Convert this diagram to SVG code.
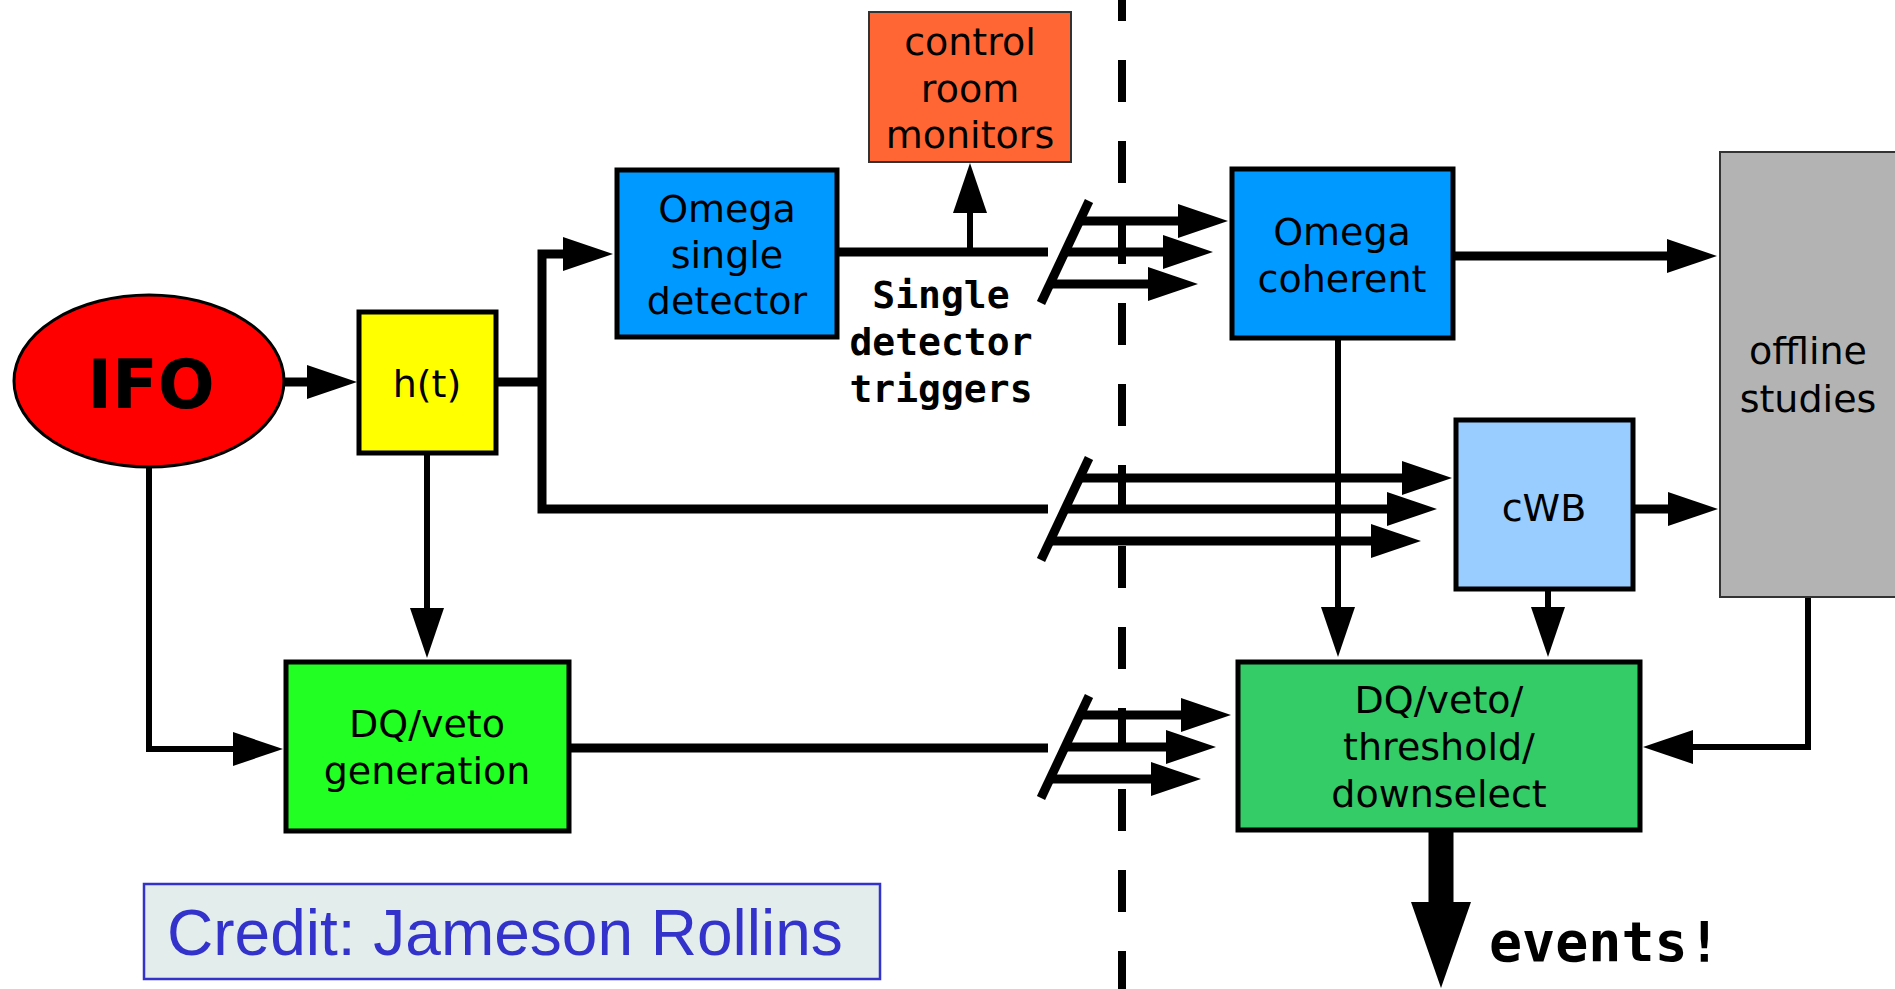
<svg xmlns="http://www.w3.org/2000/svg" width="1895" height="989" viewBox="0 0 1895 989">
<style>
  .box { stroke: #000; stroke-width: 5; }
  .thin { stroke: #333; stroke-width: 2; }
  .lbl { font-family: "DejaVu Sans", "Noto Sans", sans-serif; font-size: 38px; fill: #000; text-anchor: middle; }
  .mono { font-family: "DejaVu Sans Mono", "Liberation Mono", monospace; font-weight: bold; fill: #000; }
  .thick { fill: none; stroke: #000; stroke-width: 9; stroke-linejoin: miter; }
  .med { fill: none; stroke: #000; stroke-width: 6; stroke-linejoin: miter; }
  .slash { stroke: #000; stroke-width: 9; }
</style>
<defs>
  <marker id="ah" markerUnits="userSpaceOnUse" viewBox="0 0 50 34" markerWidth="50" markerHeight="34" refX="0" refY="17" orient="auto">
    <path d="M0,0 L50,17 L0,34 z" fill="#000"/>
  </marker>
</defs>

<g id="divider">
  <line x1="1122" y1="-21" x2="1122" y2="989" stroke="#000" stroke-width="8" stroke-dasharray="42 39"/>
</g>

<g id="connectors">
  <path class="thick" d="M284,382 H307" marker-end="url(#ah)"/>
  <path class="thick" d="M496,382 H542"/>
  <path class="thick" d="M1048,509 H542 V254 H563" marker-end="url(#ah)"/>
  <path class="thick" d="M839,252 H1048"/>
  <path class="med" d="M970,252 V213" marker-end="url(#ah)"/>
  <path class="thick" d="M570,748 H1048"/>
  <path class="med" d="M149,467 V749 H233" marker-end="url(#ah)"/>
  <path class="med" d="M427,453 V608" marker-end="url(#ah)"/>
  <path class="thick" d="M1455,256 H1667" marker-end="url(#ah)"/>
  <path class="thick" d="M1635,509 H1668" marker-end="url(#ah)"/>
  <path class="med" d="M1338,340 V607" marker-end="url(#ah)"/>
  <path class="med" d="M1548,591 V607" marker-end="url(#ah)"/>
  <path class="med" d="M1808,597 V747 H1693" marker-end="url(#ah)"/>
  <!-- top bus -->
  <line class="slash" x1="1041" y1="303" x2="1089" y2="201"/>
  <path class="thick" d="M1080,221 H1178" marker-end="url(#ah)"/>
  <path class="thick" d="M1065,252 H1163" marker-end="url(#ah)"/>
  <path class="thick" d="M1050,284 H1148" marker-end="url(#ah)"/>
  <!-- middle bus -->
  <line class="slash" x1="1041" y1="560" x2="1089" y2="458"/>
  <path class="thick" d="M1080,478 H1402" marker-end="url(#ah)"/>
  <path class="thick" d="M1065,509 H1387" marker-end="url(#ah)"/>
  <path class="thick" d="M1050,541 H1371" marker-end="url(#ah)"/>
  <!-- bottom bus -->
  <line class="slash" x1="1041" y1="798" x2="1089" y2="696"/>
  <path class="thick" d="M1080,715 H1181" marker-end="url(#ah)"/>
  <path class="thick" d="M1065,747 H1166" marker-end="url(#ah)"/>
  <path class="thick" d="M1050,779 H1151" marker-end="url(#ah)"/>
  <!-- events -->
  <line x1="1441" y1="832" x2="1441" y2="903" stroke="#000" stroke-width="25"/>
  <polygon points="1411,902 1471,902 1441,988" fill="#000"/>
</g>

<g id="ifo">
  <ellipse cx="149" cy="381" rx="135" ry="86" fill="#FF0000" stroke="#000" stroke-width="3"/>
  <text x="151" y="408" font-family="DejaVu Sans, sans-serif" font-weight="bold" font-size="67" text-anchor="middle">IFO</text>
</g>

<g id="ht">
  <rect class="box" x="359" y="312" width="137" height="141" fill="#FFFF00"/>
  <text class="lbl" x="427" y="397">h(t)</text>
</g>

<g id="omega-single">
  <rect class="box" x="617" y="170" width="220" height="167" fill="#0099FF"/>
  <text class="lbl" x="727" y="222">Omega</text>
  <text class="lbl" x="727" y="268">single</text>
  <text class="lbl" x="727" y="314">detector</text>
</g>

<g id="control-room">
  <rect class="thin" x="869" y="12" width="202" height="150" fill="#FF6633"/>
  <text class="lbl" x="970" y="55">control</text>
  <text class="lbl" x="970" y="102">room</text>
  <text class="lbl" x="970" y="148">monitors</text>
</g>

<g id="single-triggers">
  <text class="mono" x="941" y="308" font-size="38" text-anchor="middle">Single</text>
  <text class="mono" x="941" y="355" font-size="38" text-anchor="middle">detector</text>
  <text class="mono" x="941" y="402" font-size="38" text-anchor="middle">triggers</text>
</g>

<g id="dq-gen">
  <rect class="box" x="286" y="662" width="283" height="169" fill="#22FF22"/>
  <text class="lbl" x="427" y="737">DQ/veto</text>
  <text class="lbl" x="427" y="784">generation</text>
</g>

<g id="omega-coherent">
  <rect class="box" x="1232" y="169" width="221" height="169" fill="#0099FF"/>
  <text class="lbl" x="1342" y="245">Omega</text>
  <text class="lbl" x="1342" y="292">coherent</text>
</g>

<g id="cwb">
  <rect class="box" x="1456" y="420" width="177" height="169" fill="#99CCFF"/>
  <text class="lbl" x="1544" y="521">cWB</text>
</g>

<g id="offline">
  <rect class="thin" x="1720" y="152" width="185" height="445" fill="#B3B3B3"/>
  <text class="lbl" x="1808" y="364">offline</text>
  <text class="lbl" x="1808" y="412">studies</text>
</g>

<g id="dq-threshold">
  <rect class="box" x="1238" y="662" width="402" height="168" fill="#33CC66"/>
  <text class="lbl" x="1439" y="713">DQ/veto/</text>
  <text class="lbl" x="1439" y="760">threshold/</text>
  <text class="lbl" x="1439" y="807">downselect</text>
</g>

<g id="events">
  <text class="mono" x="1489" y="961" font-size="55">events!</text>
</g>

<g id="credit">
  <rect x="144" y="884" width="736" height="95" fill="#E3EDEC" stroke="#3333CC" stroke-width="2.5"/>
  <text x="167" y="955" font-family="Liberation Sans, Arial, sans-serif" font-size="64" fill="#3333CC">Credit: Jameson Rollins</text>
</g>
</svg>
